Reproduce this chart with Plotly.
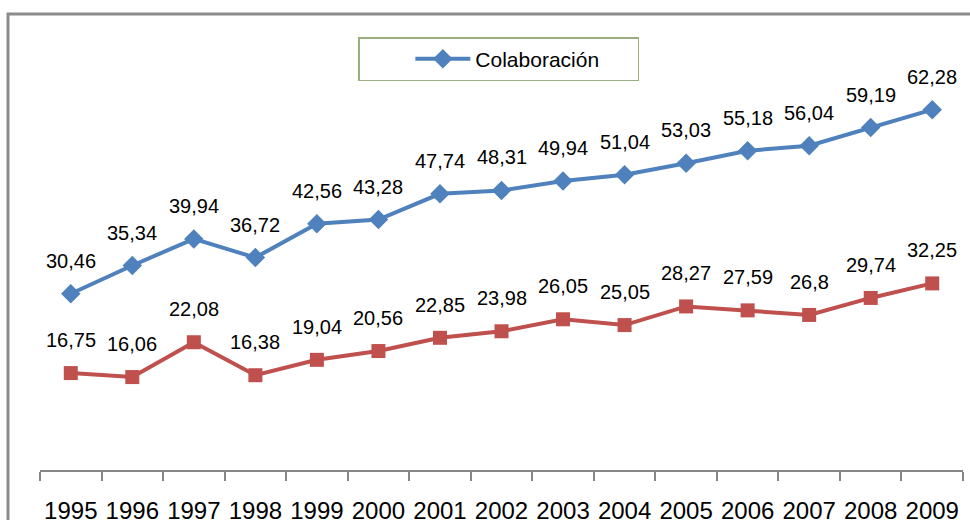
import plotly.graph_objects as go

years = ["1995", "1996", "1997", "1998", "1999", "2000", "2001", "2002",
         "2003", "2004", "2005", "2006", "2007", "2008", "2009"]
colaboracion = [30.46, 35.34, 39.94, 36.72, 42.56, 43.28, 47.74, 48.31,
                49.94, 51.04, 53.03, 55.18, 56.04, 59.19, 62.28]
serie2 = [16.75, 16.06, 22.08, 16.38, 19.04, 20.56, 22.85, 23.98,
          26.05, 25.05, 28.27, 27.59, 26.8, 29.74, 32.25]

BLUE = "#4F81BD"
RED = "#C0504D"
FONT = "Liberation Sans"

def fmt(v):
    s = f"{v:.2f}"
    if s.endswith("0"):
        s = s[:-1]
    return s.replace(".", ",")

fig = go.Figure()
fig.add_trace(go.Scatter(
    x=years, y=colaboracion, mode="lines+markers", name="Colaboración",
    line=dict(color=BLUE, width=4),
    marker=dict(symbol="diamond", size=15, color=BLUE),
    showlegend=True))
fig.add_trace(go.Scatter(
    x=years, y=serie2, mode="lines+markers", name="Serie 2",
    line=dict(color=RED, width=4),
    marker=dict(symbol="square", size=14, color=RED),
    showlegend=False))

annotations = []
for series in (colaboracion, serie2):
    for i, v in enumerate(series):
        annotations.append(dict(
            x=i, y=v, xref="x", yref="y", text=fmt(v), showarrow=False,
            yanchor="middle", yshift=33,
            font=dict(family=FONT, size=20, color="#000000")))

L, R, T, B = 40, 7, 65, 50
W, H = 970, 520
pw, ph = W - L - R, H - T - B

fig.update_layout(
    width=W, height=H,
    margin=dict(l=L, r=R, t=T, b=B, autoexpand=False),
    paper_bgcolor="white", plot_bgcolor="white",
    annotations=annotations,
    showlegend=True,
    legend=dict(
        x=(358 - L) / pw, y=(H - B - 37) / ph, xanchor="left", yanchor="top",
        bordercolor="#9BAE7E", borderwidth=1.5, bgcolor="white",
        font=dict(family=FONT, size=21, color="#000000"),
        orientation="h", itemwidth=55, entrywidth=157,
        title=dict(text="\u00a0" * 7, side="left", font=dict(family=FONT, size=21)),
    ),
    xaxis=dict(
        type="category", range=[-0.5, 14.5], automargin=False, tickangle=0,
        showline=True, linecolor="#868686", linewidth=1.5,
        ticks="outside", tickson="boundaries", ticklen=9, tickcolor="#868686", tickwidth=1.5,
        showgrid=False, zeroline=False,
        tickfont=dict(family=FONT, size=24, color="#000000"),
        ticklabelstandoff=18,
    ),
    yaxis=dict(range=[0, 70], visible=False, showgrid=False, zeroline=False, automargin=False),
    shapes=[dict(
        type="rect", xref="paper", yref="paper",
        x0=(8 - L) / pw, x1=(W + 40 - L) / pw,
        y0=-0.5, y1=(H - B - 14) / ph,
        line=dict(color="#8C8C8C", width=3), fillcolor="rgba(0,0,0,0)", layer="below")],
)

fig.write_html("out.html", config={"displayModeBar": False},
               post_script="document.body.style.margin='0';document.body.style.overflow='hidden';")
